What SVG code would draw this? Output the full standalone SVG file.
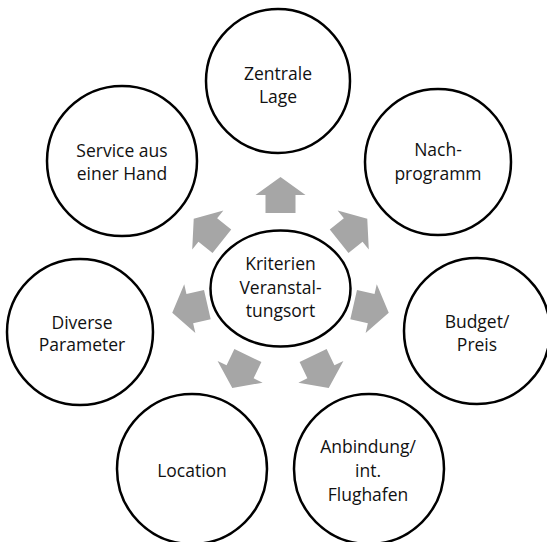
<svg xmlns="http://www.w3.org/2000/svg" width="547" height="542" viewBox="0 0 547 542">
  <defs>
    <style>
      .node { fill: #ffffff; stroke: #000000; stroke-width: 2.5; }
      .label { font-family: "Open Sans", "Noto Sans", sans-serif; font-size: 17.5px; fill: #111111; text-anchor: middle; }
      .arrow { fill: #a6a6a6; stroke: none; }
    </style>
    <!-- block arrow pointing up, centred on the origin -->
    <polygon id="blockArrow" class="arrow" points="0,-18 25,0 15,0 15,18 -15,18 -15,0 -25,0"/>
  </defs>
  <rect width="547" height="542" fill="#ffffff"/>

  <!-- outward arrows around the hub -->
  <g id="connectors">
    <use href="#blockArrow" transform="translate(280.5,195) rotate(0)"/>
    <use href="#blockArrow" transform="translate(353.2,230) rotate(51.43)"/>
    <use href="#blockArrow" transform="translate(371.2,308.7) rotate(102.86)"/>
    <use href="#blockArrow" transform="translate(320.9,371.8) rotate(154.29)"/>
    <use href="#blockArrow" transform="translate(240.1,371.8) rotate(205.71)"/>
    <use href="#blockArrow" transform="translate(189.8,308.7) rotate(257.14)"/>
    <use href="#blockArrow" transform="translate(207.8,230) rotate(308.57)"/>
  </g>

  <g id="hub">
    <ellipse class="node" cx="280.5" cy="288.5" rx="70" ry="58"/>
    <text class="label" x="280.5" y="270">Kriterien</text>
    <text class="label" x="280.5" y="293.5">Veranstal-</text>
    <text class="label" x="280.5" y="317">tungsort</text>
  </g>

  <g id="zentrale-lage">
    <circle class="node" cx="278" cy="81" r="72"/>
    <text class="label" x="278" y="80">Zentrale</text>
    <text class="label" x="278" y="103">Lage</text>
  </g>

  <g id="nachprogramm">
    <circle class="node" cx="438" cy="162" r="73"/>
    <text class="label" x="438" y="156">Nach-</text>
    <text class="label" x="438" y="180">programm</text>
  </g>

  <g id="budget-preis">
    <circle class="node" cx="477" cy="331" r="73"/>
    <text class="label" x="477" y="327.5">Budget/</text>
    <text class="label" x="477" y="351">Preis</text>
  </g>

  <g id="anbindung">
    <circle class="node" cx="369" cy="469" r="75"/>
    <text class="label" x="368" y="452.5">Anbindung/</text>
    <text class="label" x="368" y="476.5">int.</text>
    <text class="label" x="368" y="501">Flughafen</text>
  </g>

  <g id="location">
    <circle class="node" cx="192" cy="469" r="75"/>
    <text class="label" x="192" y="476.5">Location</text>
  </g>

  <g id="diverse-parameter">
    <circle class="node" cx="80" cy="332" r="73"/>
    <text class="label" x="82" y="328.5">Diverse</text>
    <text class="label" x="82" y="351">Parameter</text>
  </g>

  <g id="service">
    <circle class="node" cx="122" cy="161" r="75"/>
    <text class="label" x="122" y="157">Service aus</text>
    <text class="label" x="122" y="179.5">einer Hand</text>
  </g>
</svg>
